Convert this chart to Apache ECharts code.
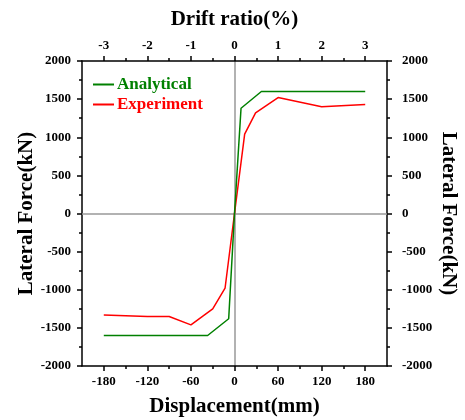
<!DOCTYPE html>
<html>
<head>
<meta charset="utf-8">
<script src="https://cdn.jsdelivr.net/npm/echarts@6/dist/echarts.min.js"></script>
<style>html,body{margin:0;padding:0;background:#fff}#c{width:465px;height:420px}</style>
</head>
<body>
<div id="c"></div>
<script>
// Data
var analyticalX = [-180, -37, -8, 0, 9, 37, 180];
var analyticalY = [-1600, -1600, -1380, 0, 1380, 1600, 1600];
var experimentX = [-180, -120, -90, -60, -30, -13, 0, 14, 29, 60, 120, 180];
var experimentY = [-1330, -1350, -1350, -1460, -1250, -980, 0, 1040, 1320, 1520, 1400, 1430];
var dispTicks = [-180, -120, -60, 0, 60, 120, 180];
var dispMinor = [-150, -90, -30, 30, 90, 150];
var driftTicks = [-3, -2, -1, 0, 1, 2, 3];
var driftMinor = [-2.5, -1.5, -0.5, 0.5, 1.5, 2.5];

function pairs(xs, ys) { return xs.map(function (x, i) { return [x, ys[i]]; }); }

var font = 'Liberation Serif';
function lbl(margin) {
  return { fontFamily: font, fontWeight: 'bold', fontSize: 13, color: '#000', margin: margin,
    formatter: function (v) { return String(v); } };
}
var nameStyle = { fontFamily: font, fontWeight: 'bold', fontSize: 21, color: '#000' };
var axisLine = { show: true, onZero: false, lineStyle: { color: '#000', width: 1.5 } };
var tickStyle = { color: '#000', width: 1.5 };
var zeroLine = { show: true, onZero: true, lineStyle: { color: '#999', width: 1.5 } };

var chart = echarts.init(document.getElementById('c'), null, { renderer: 'canvas' });
chart.setOption({
  animation: false,
  backgroundColor: '#fff',
  grid: { left: 82, right: 78, top: 61, bottom: 54, containLabel: false, outerBoundsMode: 'none' },
  legend: {
    orient: 'vertical', left: 88, top: 71, itemWidth: 21, itemHeight: 2, itemGap: 3,
    icon: 'rect',
    data: [
      { name: 'Analytical', textStyle: { color: '#008000' } },
      { name: 'Experiment', textStyle: { color: '#ff0000' } }
    ],
    textStyle: { fontFamily: font, fontWeight: 'bold', fontSize: 17, padding: [0, 0, 0, -2] }
  },
  xAxis: [
    { type: 'value', position: 'bottom', min: -210, max: 210,
      name: 'Displacement(mm)', nameLocation: 'middle', nameGap: 30, nameTextStyle: nameStyle,
      axisLine: axisLine, splitLine: { show: false },
      axisTick: { show: true, inside: false, length: 5, customValues: dispTicks, lineStyle: tickStyle },
      axisLabel: Object.assign({ customValues: dispTicks }, lbl(9)) },
    { type: 'value', position: 'bottom', min: -210, max: 210,
      axisLine: { show: false, onZero: false }, splitLine: { show: false },
      axisTick: { show: true, length: 3, customValues: dispMinor, lineStyle: tickStyle },
      axisLabel: { show: false } },
    { type: 'value', position: 'top', min: -3.5, max: 3.5,
      name: 'Drift ratio(%)', nameLocation: 'middle', nameGap: 31, nameTextStyle: nameStyle,
      axisLine: axisLine, splitLine: { show: false },
      axisTick: { show: true, length: 5, customValues: driftTicks, lineStyle: tickStyle },
      axisLabel: Object.assign({ customValues: driftTicks }, lbl(9)) },
    { type: 'value', position: 'top', min: -3.5, max: 3.5,
      axisLine: { show: false, onZero: false }, splitLine: { show: false },
      axisTick: { show: true, length: 3, customValues: driftMinor, lineStyle: tickStyle },
      axisLabel: { show: false } },
    { type: 'value', min: -210, max: 210, axisLine: zeroLine,
      axisTick: { show: false }, axisLabel: { show: false }, splitLine: { show: false } }
  ],
  yAxis: [
    { type: 'value', position: 'left', min: -2000, max: 2000, interval: 500,
      name: 'Lateral Force(kN)', nameLocation: 'middle', nameGap: 45, nameMoveOverlap: false, nameTextStyle: nameStyle,
      axisLine: axisLine, splitLine: { show: false },
      axisTick: { show: true, length: 5, lineStyle: tickStyle },
      minorTick: { show: true, splitNumber: 2, length: 3, lineStyle: tickStyle },
      axisLabel: lbl(11) },
    { type: 'value', position: 'right', min: -2000, max: 2000, interval: 500,
      name: 'Lateral Force(kN)', nameLocation: 'middle', nameGap: 51, nameMoveOverlap: false, nameRotate: -90, nameTextStyle: nameStyle,
      axisLine: axisLine, splitLine: { show: false },
      axisTick: { show: true, length: 5, lineStyle: tickStyle },
      minorTick: { show: true, splitNumber: 2, length: 3, lineStyle: tickStyle },
      axisLabel: lbl(15) },
    { type: 'value', min: -2000, max: 2000, axisLine: zeroLine,
      axisTick: { show: false }, axisLabel: { show: false }, splitLine: { show: false } }
  ],
  series: [
    { name: 'Analytical', type: 'line', data: pairs(analyticalX, analyticalY), xAxisIndex: 0, yAxisIndex: 0,
      symbol: 'none', z: 3, lineStyle: { color: '#008000', width: 1.5 }, itemStyle: { color: '#008000' } },
    { name: 'Experiment', type: 'line', data: pairs(experimentX, experimentY), xAxisIndex: 0, yAxisIndex: 0,
      symbol: 'none', z: 2, lineStyle: { color: '#ff0000', width: 1.5 }, itemStyle: { color: '#ff0000' } }
  ]
});
</script>
</body>
</html>
